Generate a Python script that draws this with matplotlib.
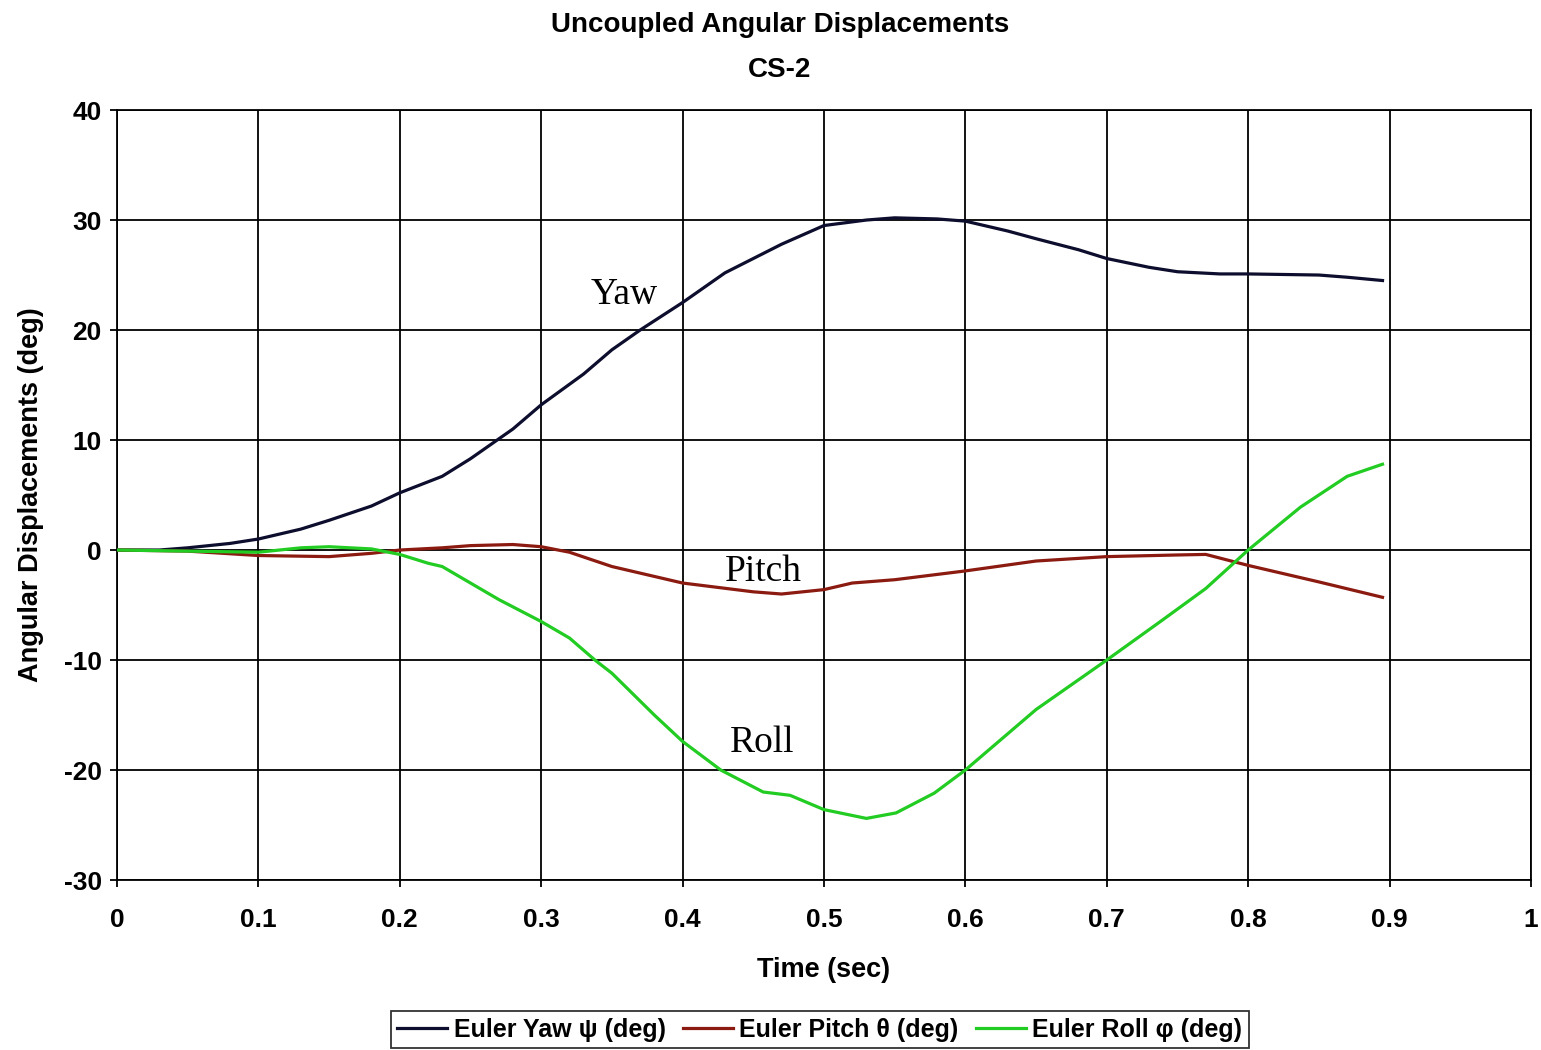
import matplotlib
matplotlib.use("Agg")
from matplotlib import pyplot as plt

# values
yaw_t = [0, 0.03, 0.05, 0.08, 0.1, 0.13, 0.15, 0.18, 0.2, 0.23, 0.25, 0.28, 0.3, 0.33,
         0.35, 0.37, 0.4, 0.43, 0.45, 0.47, 0.5, 0.53, 0.55, 0.58, 0.6, 0.63, 0.65,
         0.68, 0.7, 0.73, 0.75, 0.78, 0.8, 0.85, 0.87, 0.895]
yaw = [0, 0, 0.2, 0.6, 1.0, 1.9, 2.7, 4.0, 5.2, 6.7, 8.3, 11.0, 13.2, 16.0,
       18.2, 20.0, 22.5, 25.2, 26.5, 27.8, 29.5, 30.0, 30.2, 30.1, 29.9, 29.0, 28.3,
       27.3, 26.5, 25.7, 25.3, 25.1, 25.1, 25.0, 24.8, 24.5]

pitch_t = [0, 0.05, 0.1, 0.15, 0.18, 0.2, 0.23, 0.25, 0.28, 0.3, 0.32, 0.35, 0.4,
           0.45, 0.47, 0.5, 0.52, 0.55, 0.6, 0.65, 0.7, 0.75, 0.77, 0.8, 0.85, 0.895]
pitch = [0, -0.1, -0.5, -0.6, -0.3, 0.0, 0.2, 0.4, 0.5, 0.3, -0.2, -1.5, -3.0,
         -3.8, -4.0, -3.6, -3.0, -2.7, -1.9, -1.0, -0.6, -0.45, -0.4, -1.4, -2.9, -4.3]

roll_t = [0, 0.05, 0.1, 0.13, 0.15, 0.18, 0.2, 0.22, 0.23, 0.25, 0.27, 0.3, 0.32,
          0.338, 0.35, 0.38, 0.4, 0.427, 0.457, 0.476, 0.5, 0.53, 0.551, 0.578, 0.6,
          0.65, 0.7, 0.739, 0.77, 0.8, 0.837, 0.87, 0.895]
roll = [0, -0.1, -0.2, 0.2, 0.3, 0.1, -0.4, -1.2, -1.5, -3.0, -4.5, -6.5, -8.0,
        -10.0, -11.2, -15.0, -17.4, -20.0, -22.0, -22.3, -23.6, -24.4, -23.9, -22.1, -20.0,
        -14.5, -10.0, -6.4, -3.5, 0.0, 3.9, 6.7, 7.8]

x_ticks = [0, 0.1, 0.2, 0.3, 0.4, 0.5, 0.6, 0.7, 0.8, 0.9, 1]
x_labels = ["0", "0.1", "0.2", "0.3", "0.4", "0.5", "0.6", "0.7", "0.8", "0.9", "1"]
y_ticks = [-30, -20, -10, 0, 10, 20, 30, 40]

plt.rcParams['font.family'] = ['Liberation Sans', 'DejaVu Sans']
plt.rcParams['axes.unicode_minus'] = False

fig = plt.figure(figsize=(15.41, 10.5), dpi=100)
ax = fig.add_axes([0.0759, 0.1619, 0.9176, 0.7333])

ax.plot(yaw_t, yaw, color='#0d0d2e', lw=2.3, label='Euler Yaw ψ (deg)', zorder=3)
ax.plot(pitch_t, pitch, color='#8b1a10', lw=2.3, label='Euler Pitch θ (deg)', zorder=3)
ax.plot(roll_t, roll, color='#22cc22', lw=2.3, label='Euler Roll φ (deg)', zorder=3)

ax.set_xlim(0, 1)
ax.set_ylim(-30, 40)
ax.set_xticks(x_ticks)
ax.set_xticklabels(x_labels)
ax.set_yticks(y_ticks)
ax.grid(True, color='black', lw=1.3)
ax.set_axisbelow(True)
for s in ax.spines.values():
    s.set_color('black')
    s.set_linewidth(1.3)
ax.tick_params(axis='both', labelsize=19, length=5, width=1.3)
ax.tick_params(axis='x', pad=15)
ax.tick_params(axis='y', pad=6)
for lab in ax.get_xticklabels() + ax.get_yticklabels():
    lab.set_fontweight('bold')

ax.set_xlabel('Time (sec)', fontsize=19.5, fontweight='bold', labelpad=18)
ax.set_ylabel('Angular Displacements (deg)', fontsize=19.5, fontweight='bold', labelpad=14)

fig.text(0.506, 0.976, 'Uncoupled Angular Displacements', ha='center', va='center',
         fontsize=20, fontweight='bold')
fig.text(0.506, 0.933, 'CS-2', ha='center', va='center', fontsize=20, fontweight='bold')

serif = ['Liberation Serif', 'DejaVu Serif']
ax.text(0.359, 23.2, 'Yaw', family=serif, fontsize=27, ha='center', va='center')
ax.text(0.457, -2.0, 'Pitch', family=serif, fontsize=27, ha='center', va='center')
ax.text(0.456, -17.5, 'Roll', family=serif, fontsize=27, ha='center', va='center')

leg = fig.legend(loc='center', bbox_to_anchor=(0.532, 0.0195), ncol=3, frameon=True,
                 fancybox=False, edgecolor='black', handlelength=2.0, handletextpad=0.25,
                 columnspacing=0.7, borderpad=0.25, prop={'size': 18, 'weight': 'bold'})
leg.get_frame().set_linewidth(1.3)

fig.savefig('out.png', dpi=100)
